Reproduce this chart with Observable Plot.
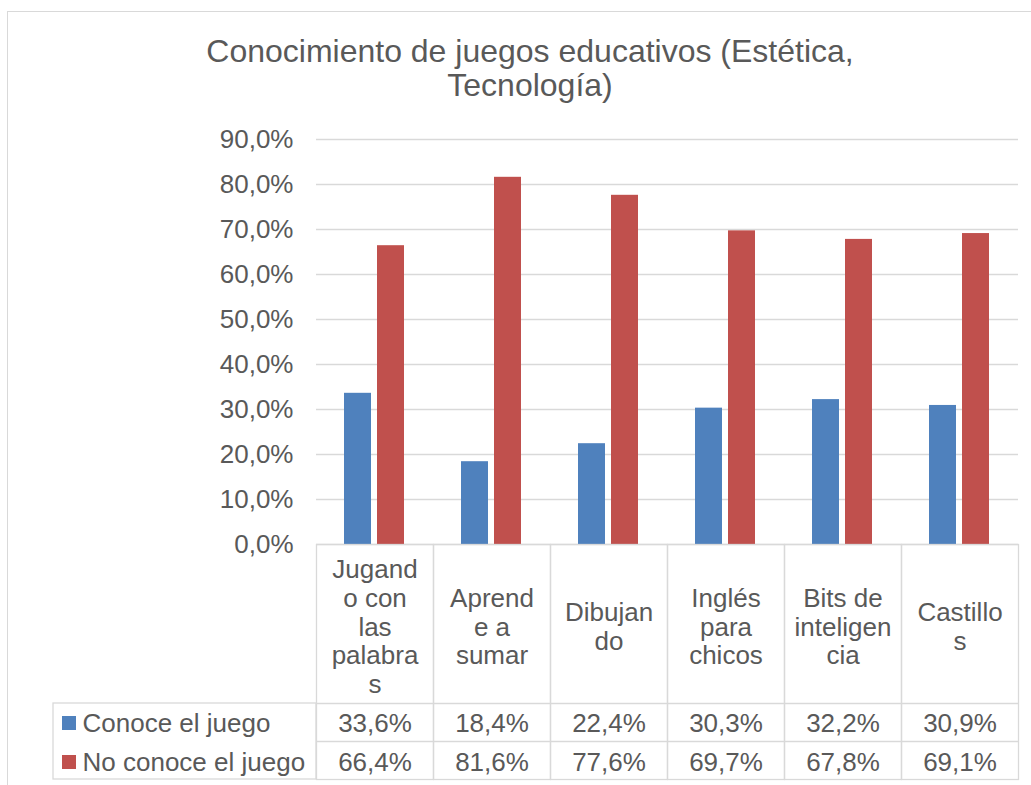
<!DOCTYPE html>
<html><head><meta charset="utf-8">
<script src="https://cdn.jsdelivr.net/npm/d3@7"></script>
<script src="https://cdn.jsdelivr.net/npm/@observablehq/plot@0.6"></script>
<style>
html,body{margin:0;padding:0;background:#fff;overflow:hidden;}
#wrap{position:relative;width:1031px;height:785px;overflow:hidden;}
#border{position:absolute;left:7px;top:11px;width:1040px;height:800px;border:1.5px solid #d9d9d9;box-sizing:border-box;}
#title{position:relative;height:110px;width:1060px;text-align:center;font-family:"Liberation Sans",Arial,sans-serif;font-size:32px;color:#595959;line-height:34px;padding-top:34px;box-sizing:border-box;white-space:nowrap;}
#chart{position:relative;}
</style></head>
<body><div id="wrap"><div id="border"></div><div id="title">Conocimiento de juegos educativos (Estética,<br>Tecnología)</div><div id="chart"></div></div>
<script>
const categories = ["Jugando con las palabras","Aprende a sumar","Dibujando","Inglés para chicos","Bits de inteligencia","Castillos"];
const categoryLabels = ["Jugand\no con\nlas\npalabra\ns","Aprend\ne a\nsumar","Dibujan\ndo","Inglés\npara\nchicos","Bits de\ninteligen\ncia","Castillo\ns"];
const series = ["Conoce el juego","No conoce el juego"];
const conoce = [33.6,18.4,22.4,30.3,32.2,30.9];
const noConoce = [66.4,81.6,77.6,69.7,67.8,69.1];
const yTicks = [0,10,20,30,40,50,60,70,80,90];

const colors = ["#4f81bd","#c0504d"];
const textColor = "#595959";
const gridColor = "#d9d9d9";
const fmt = v => v.toFixed(1).replace(".", ",") + "%";

const rows = [];
categories.forEach((c, i) => {
  rows.push({category: c, series: series[0], value: conoce[i]});
  rows.push({category: c, series: series[1], value: noConoce[i]});
});
const headers = categories.map((c, i) => ({category: c, label: categoryLabels[i]}));
const row1 = categories.map((c, i) => ({category: c, value: conoce[i]}));
const row2 = categories.map((c, i) => ({category: c, value: noConoce[i]}));
const first = [categories[0]];

const chart = Plot.plot({
  width: 1031,
  height: 675,
  marginLeft: 316,
  marginRight: 13,
  marginTop: 29,
  marginBottom: 241,
  style: {fontFamily: "'Liberation Sans',Arial,sans-serif", fontSize: "26px", color: textColor, background: "transparent"},
  fx: {domain: categories, padding: 0, axis: null, label: null},
  x: {domain: series, paddingInner: 0.1818, paddingOuter: 0.8636, axis: null, label: null},
  y: {domain: [0, 90], ticks: yTicks, tickFormat: fmt, tickSize: 0, tickPadding: 23, label: null},
  color: {domain: series, range: colors},
  marks: [
    Plot.ruleY(yTicks, {stroke: gridColor, strokeWidth: 1.3}),
    Plot.barY(rows, {fx: "category", x: "series", y: "value", fill: "series"}),
    Plot.frame({stroke: gridColor, strokeWidth: 1.3, insetTop: 405, insetBottom: -235}),
    Plot.ruleY([0], {stroke: gridColor, strokeWidth: 1.3, dy: 159}),
    Plot.ruleY([0], {stroke: gridColor, strokeWidth: 1.3, dy: 197}),
    Plot.rect(first, {fx: d => d, fill: "none", stroke: gridColor, strokeWidth: 1.3, insetLeft: -263, insetRight: 117, insetTop: 564, insetBottom: -235}),
    Plot.rect(first, {fx: d => d, fill: colors[0], insetLeft: -254, insetRight: 357, insetTop: 577, insetBottom: -186}),
    Plot.rect(first, {fx: d => d, fill: colors[1], insetLeft: -254, insetRight: 357, insetTop: 616, insetBottom: -225}),
    Plot.text(first, {fx: d => d, text: () => series[0], frameAnchor: "bottom-left", textAnchor: "start", lineAnchor: "middle", dx: -234, dy: 179, fontSize: 26, fill: textColor}),
    Plot.text(first, {fx: d => d, text: () => series[1], frameAnchor: "bottom-left", textAnchor: "start", lineAnchor: "middle", dx: -234, dy: 218, fontSize: 26, fill: textColor}),
    Plot.text(headers, {fx: "category", text: "label", frameAnchor: "bottom", lineAnchor: "middle", dy: 82, fontSize: 26, lineHeight: 1.106, fill: textColor}),
    Plot.text(row1, {fx: "category", text: d => fmt(d.value), frameAnchor: "bottom", lineAnchor: "middle", dy: 179, fontSize: 26, fill: textColor}),
    Plot.text(row2, {fx: "category", text: d => fmt(d.value), frameAnchor: "bottom", lineAnchor: "middle", dy: 218, fontSize: 26, fill: textColor})
  ]
});
document.getElementById("chart").appendChild(chart);
</script>
</body></html>
